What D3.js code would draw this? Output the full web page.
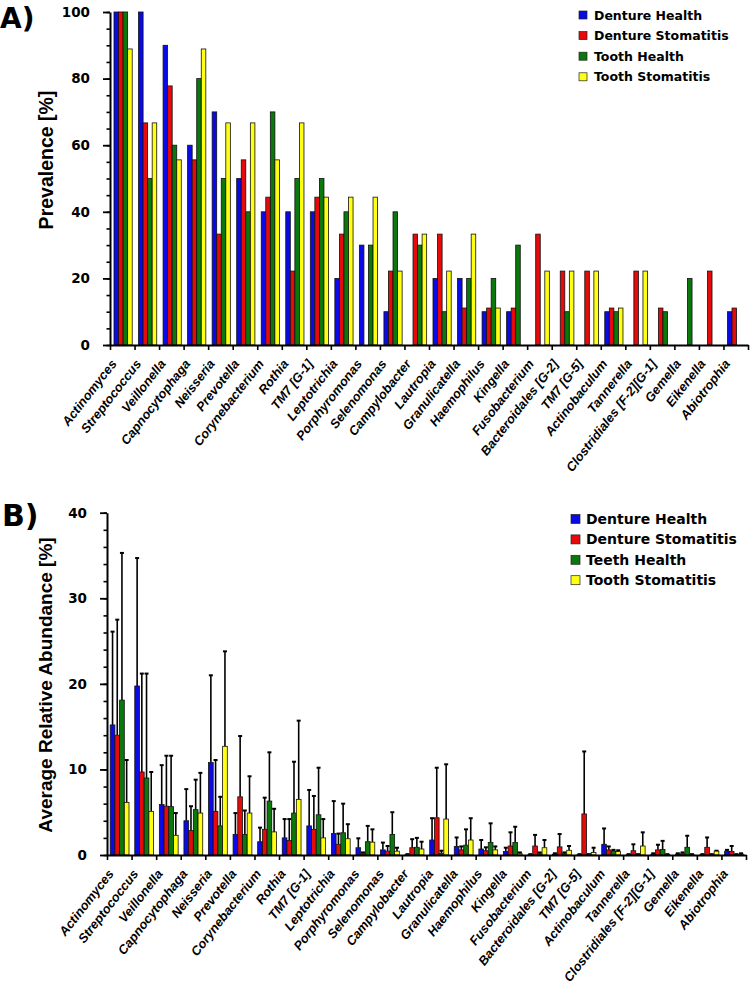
<!DOCTYPE html>
<html>
<head>
<meta charset="utf-8">
<script src="https://cdn.jsdelivr.net/npm/d3@7"></script>
<style>
  html, body { margin: 0; padding: 0; background: #fff; }
  svg { display: block; }
</style>
</head>
<body>
<svg id="chart" width="750" height="987"></svg>
<script>
const categories = ["Actinomyces","Streptococcus","Veillonella","Capnocytophaga","Neisseria","Prevotella","Corynebacterium","Rothia","TM7 [G-1]","Leptotrichia","Porphyromonas","Selenomonas","Campylobacter","Lautropia","Granulicatella","Haemophilus","Kingella","Fusobacterium","Bacteroidales [G-2]","TM7 [G-5]","Actinobaculum","Tannerella","Clostridiales [F-2][G-1]","Gemella","Eikenella","Abiotrophia"];

const seriesA = ["Denture Health","Denture Stomatitis","Tooth Health","Tooth Stomatitis"];
const seriesB = ["Denture Health","Denture Stomatitis","Teeth Health","Tooth Stomatitis"];
const colors = ["#0a0ae6","#e60a0a","#0a780a","#ffff14"];

// Panel A: prevalence [%]
const prevDentureHealth     = [100,100,90,60,70,50,40,40,40,20,30,10,0,20,20,10,10,0,0,0,10,0,0,0,0,10];
const prevDentureStomatitis = [100,66.7,77.8,55.6,33.3,55.6,44.4,22.2,44.4,33.3,0,22.2,33.3,33.3,11.1,11.1,11.1,33.3,22.2,22.2,11.1,22.2,11.1,0,22.2,11.1];
const prevToothHealth       = [100,50,60,80,50,40,70,50,50,40,30,40,30,10,20,20,30,0,10,0,10,0,10,20,0,0];
const prevToothStomatitis   = [88.9,66.7,55.6,88.9,66.7,66.7,55.6,66.7,44.4,44.4,44.4,22.2,33.3,22.2,33.3,11.1,0,22.2,22.2,22.2,11.1,22.2,0,0,0,0];

// Panel B: average relative abundance [%] and upper error bar ends
const abDentureHealth     = [15.2,19.75,5.9,4.0,10.8,2.4,1.55,2.0,3.4,2.5,0.85,0.6,0.05,1.75,1.0,0.7,0.4,0.05,0.1,0.05,1.25,0.05,0.1,0.1,0.05,0.45];
const errDentureHealth    = [26.1,34.7,10.5,7.7,21.0,4.9,3.2,4.2,7.6,6.3,1.95,1.45,0.1,4.3,2.05,1.75,0.85,0.1,0.2,0.1,3.1,0.1,0.2,0.2,0.1,0.6];
const abDentureStomatitis = [14.0,9.7,5.7,2.85,5.1,6.8,3.0,1.7,3.0,1.25,0.15,0.45,0.85,4.35,0.6,0.5,1.05,1.05,0.95,4.8,0.6,0.5,0.6,0.15,0.9,0.4];
const errDentureStomatitis= [27.5,21.2,11.6,5.7,11.1,13.9,6.7,4.2,6.9,2.5,0.3,1.05,1.85,10.2,1.0,0.9,2.65,2.35,2.45,12.1,1.0,1.25,1.2,0.3,2.05,1.05];
const abTeethHealth       = [18.1,9.0,5.65,5.3,3.4,2.4,6.3,4.9,4.7,2.6,1.55,2.4,0.9,0.2,1.15,1.45,1.45,0.15,0.15,0.05,0.45,0.05,0.65,0.9,0.05,0.05];
const errTeethHealth      = [35.3,21.2,11.6,8.8,6.8,5.2,12.0,10.9,10.2,6.0,3.4,5.0,2.0,0.5,3.0,3.7,3.3,0.3,0.3,0.1,0.6,0.1,1.65,2.25,0.1,0.1];
const abToothStomatitis   = [6.15,5.1,2.3,4.9,12.7,4.9,2.7,6.5,2.0,1.9,1.5,0.45,0.7,4.2,1.75,0.6,0.15,0.85,0.55,0.3,0.4,1.05,0.05,0.05,0.45,0.1];
const errToothStomatitis  = [11.1,9.7,4.9,9.6,23.8,9.2,5.4,15.7,4.2,3.6,3.0,0.85,1.55,10.6,4.3,1.0,0.3,1.75,1.05,0.85,0.55,2.65,0.1,0.1,0.5,0.2];

const yTicksA = [0,20,40,60,80,100];
const yTicksB = [0,10,20,30,40];

const svg = d3.select("#chart");
const tickFont = "'DejaVu Sans', sans-serif";
const labelFont = "'Liberation Sans', Arial, sans-serif";

function drawPanel(cfg) {
  const g = svg.append("g");
  const x0 = d3.scaleBand().domain(categories).range([cfg.left, cfg.right]).padding(0);
  const x1 = d3.scaleBand().domain(cfg.series).range(cfg.inner).padding(0);
  const xb = d3.scaleLinear().domain([0, categories.length]).range([cfg.left, cfg.right]);
  const y = d3.scaleLinear().domain([0, cfg.ymax]).range([cfg.bottom, cfg.top]);

  const rows = categories.map((c, i) => ({
    cat: c,
    vals: cfg.series.map((s, k) => ({ s, k, v: cfg.values[k][i], e: cfg.errs ? cfg.errs[k][i] : null }))
  }));

  if (cfg.errs) {
    const eg = g.append("g");
    rows.forEach(r => {
      r.vals.forEach(d => {
        const cx = x0(r.cat) + x1(d.s) + x1.bandwidth() / 2;
        eg.append("line").attr("x1", cx).attr("x2", cx)
          .attr("y1", y(d.v)).attr("y2", y(d.e))
          .attr("stroke", "#000").attr("stroke-width", 1.6);
        eg.append("line").attr("x1", cx - 2).attr("x2", cx + 2)
          .attr("y1", y(d.e)).attr("y2", y(d.e))
          .attr("stroke", "#000").attr("stroke-width", 2);
      });
    });
  }

  g.append("g").selectAll("g").data(rows).join("g")
    .attr("transform", r => `translate(${x0(r.cat)},0)`)
    .selectAll("rect").data(r => r.vals.filter(d => d.v > 0)).join("rect")
    .attr("x", d => x1(d.s))
    .attr("width", x1.bandwidth())
    .attr("y", d => y(d.v))
    .attr("height", d => cfg.bottom - y(d.v))
    .attr("fill", d => colors[d.k])
    .attr("stroke", "#111")
    .attr("stroke-width", 0.8);

  g.append("g").attr("transform", `translate(${cfg.left},0)`)
    .call(d3.axisLeft(y).tickValues(d3.range(0, cfg.ymax + 0.001, cfg.minor)).tickSize(3.5).tickFormat(""))
    .call(a => a.selectAll("line").attr("stroke", "#000").attr("stroke-width", 1.6))
    .call(a => a.select(".domain").remove());
  g.append("g").attr("transform", `translate(${cfg.left},0)`)
    .call(d3.axisLeft(y).tickValues(cfg.yticks).tickSize(7).tickSizeOuter(0).tickPadding(13))
    .call(a => a.selectAll("line").attr("stroke", "#000").attr("stroke-width", 1.8))
    .call(a => a.select(".domain").attr("stroke", "#000").attr("stroke-width", 2))
    .call(a => a.selectAll("text").attr("font-family", tickFont).attr("font-weight", "bold")
      .attr("font-size", "13.5px").attr("fill", "#000"));

  g.append("g").attr("transform", `translate(0,${cfg.bottom})`)
    .call(d3.axisBottom(xb).tickValues(d3.range(categories.length + 1)).tickSize(5).tickSizeOuter(0).tickFormat(""))
    .call(a => a.selectAll("line").attr("stroke", "#000").attr("stroke-width", 1.6))
    .call(a => a.select(".domain").attr("stroke", "#000").attr("stroke-width", 2));

  g.append("g").selectAll("text").data(categories).join("text")
    .attr("transform", c => `translate(${x0(c) + x0.bandwidth() / 2 - 5},${cfg.bottom + 19}) rotate(-52)`)
    .attr("text-anchor", "end")
    .attr("font-family", labelFont).attr("font-weight", "bold").attr("font-style", "italic")
    .attr("font-size", "12.8px").attr("fill", "#000")
    .text(c => c);

  g.append("text")
    .attr("transform", `translate(${cfg.ytitleX},${cfg.ytitleY}) rotate(-90)`)
    .attr("text-anchor", "middle")
    .attr("font-family", labelFont).attr("font-weight", "bold").attr("font-size", cfg.ytitleSize)
    .attr("fill", "#000")
    .text(cfg.ytitle);

  g.append("text").attr("x", cfg.tagX).attr("y", cfg.tagY)
    .attr("font-family", "'DejaVu Sans', sans-serif").attr("font-weight", "bold")
    .attr("font-size", cfg.tagSize).attr("fill", "#000").text(cfg.tag);

  const lg = g.append("g").attr("transform", `translate(${cfg.legX},${cfg.legY})`);
  const items = lg.selectAll("g").data(cfg.series).join("g")
    .attr("transform", (d, i) => `translate(0,${i * cfg.legStep})`);
  items.append("rect").attr("x", 0).attr("y", -cfg.legBox / 2).attr("width", cfg.legBox).attr("height", cfg.legBox)
    .attr("fill", (d, i) => colors[i]).attr("stroke", "#222").attr("stroke-width", 0.7);
  items.append("text").attr("x", cfg.legText).attr("y", 0).attr("dy", "0.36em")
    .attr("font-family", tickFont).attr("font-weight", "bold").attr("font-size", cfg.legSize)
    .attr("fill", "#000").text(d => d);
}

drawPanel({
  series: seriesA,
  values: [prevDentureHealth, prevDentureStomatitis, prevToothHealth, prevToothStomatitis],
  errs: null,
  left: 110, right: 748, top: 12, bottom: 345, ymax: 100, minor: 5, yticks: yTicksA,
  inner: [4, 22.2],
  ytitle: "Prevalence [%]", ytitleX: 53, ytitleY: 160, ytitleSize: "19.5px",
  tag: "A)", tagX: 0, tagY: 28, tagSize: "28px",
  legX: 579, legY: 15, legStep: 20.6, legBox: 8, legText: 15, legSize: "12.5px"
});

drawPanel({
  series: seriesB,
  values: [abDentureHealth, abDentureStomatitis, abTeethHealth, abToothStomatitis],
  errs: [errDentureHealth, errDentureStomatitis, errTeethHealth, errToothStomatitis],
  left: 107, right: 746, top: 512.7, bottom: 855, ymax: 40, minor: 2, yticks: yTicksB,
  inner: [3.2, 22],
  ytitle: "Average Relative Abundance [%]", ytitleX: 52, ytitleY: 685, ytitleSize: "19px",
  tag: "B)", tagX: 2, tagY: 526, tagSize: "30px",
  legX: 571, legY: 519, legStep: 20.4, legBox: 9, legText: 15, legSize: "14px"
});
</script>
</body>
</html>
